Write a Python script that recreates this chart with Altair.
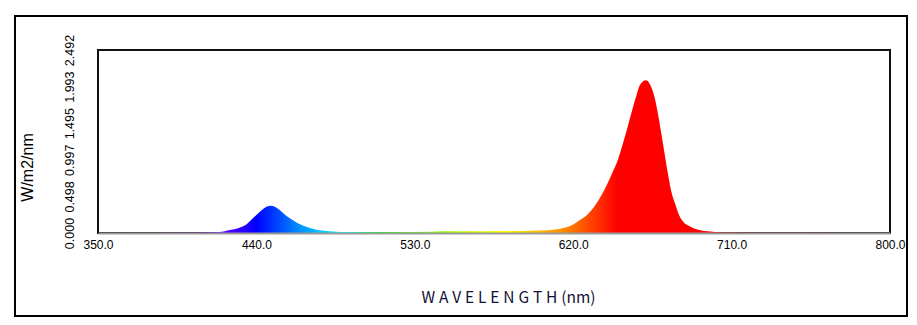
import altair as alt
import pandas as pd

# Spectrum (wavelength nm, W/m2/nm)
wavelengths = [350, 380, 400, 410, 419, 425, 431, 434.5, 438, 442, 446, 448.3, 451.5,
               455.3, 459, 463, 466.6, 472.3, 480, 487.5, 500, 520, 540, 545, 570, 590,
               601, 610, 615, 620, 624, 628, 631.4, 635, 639, 643, 645, 647, 649, 652,
               656, 658, 661.4, 664.6, 666.5, 668.4, 670.3, 672.2, 674.1, 676, 678,
               679.7, 682.6, 686.4, 691, 698, 703, 720, 800]
irradiance = [0.0, 0.002, 0.005, 0.008, 0.014, 0.04, 0.078, 0.12, 0.2, 0.29, 0.36, 0.372,
              0.345, 0.27, 0.2, 0.14, 0.10, 0.055, 0.027, 0.015, 0.012, 0.014, 0.018,
              0.025, 0.025, 0.027, 0.034, 0.048, 0.07, 0.116, 0.18, 0.25, 0.34, 0.47,
              0.65, 0.86, 0.97, 1.12, 1.28, 1.54, 1.88, 2.02, 2.08, 1.97, 1.82, 1.59,
              1.32, 1.04, 0.77, 0.54, 0.39, 0.27, 0.15, 0.09, 0.045, 0.02, 0.01, 0.003, 0.0]

x_ticks = [350, 440, 530, 620, 710, 800]
y_ticks = [0.0, 0.498, 0.997, 1.495, 1.993, 2.492]

# colour of light per wavelength (gradient stops)
stop_wl = [350, 380, 400, 420, 440, 465, 490, 510, 545, 580, 612, 645, 700, 780, 800]
stop_col = ["#500050", "#610061", "#8200b5", "#6a00ff", "#0000ff", "#0092ff", "#00ffff",
            "#00ff00", "#92ff00", "#ffff00", "#ff9400", "#ff0000", "#ff0000", "#610000",
            "#610000"]

df = pd.DataFrame({"wl": wavelengths, "val": irradiance})

W, H = 792, 183
lo, hi = 350, 800
stops = [alt.GradientStop(offset=(w - lo) / (hi - lo), color=c) for w, c in zip(stop_wl, stop_col)]

sp = "\u2005"
x_title = sp.join("WAVELENGTH") + sp + "(nm)"

area = alt.Chart(df).mark_area(
    interpolate="monotone",
    color=alt.Gradient(gradient="linear", stops=stops, x1=0, x2=1, y1=0, y2=0),
).encode(
    x=alt.X("wl:Q", scale=alt.Scale(domain=[lo, hi], nice=False, zero=False),
            axis=alt.Axis(values=x_ticks, format=".1f", title=x_title,
                          grid=False, ticks=False, domainColor="#999999", domainWidth=2,
                          labelFont="Liberation Sans", labelFontSize=12, labelColor="#000",
                          labelPadding=6, labelFlush=False, zindex=1,
                          titleFont="Noto Sans CJK SC", titleFontSize=15.5, titleFontWeight="normal",
                          titleColor="#111133", titleX=410, titleY=69, titleAlign="center",
                          titleBaseline="alphabetic")),
    y=alt.Y("val:Q", scale=alt.Scale(domain=[0, 2.492], nice=False),
            axis=alt.Axis(values=y_ticks, format=".3f", title="W/m2/nm", grid=False,
                          ticks=False, domain=False, labelAngle=270, labelAlign="center",
                          labelBaseline="bottom", labelPadding=22,
                          labelFont="Liberation Sans", labelFontSize=12.5, labelColor="#000",
                          labelFlush=False,
                          titleFont="Liberation Sans", titleFontSize=16, titleFontWeight="normal",
                          titleColor="#000", titleAngle=270, titleX=-66, titleY=117,
                          titleAlign="center", titleBaseline="alphabetic")),
)

border = alt.Chart(df).mark_rect(fill=None, stroke="#000", strokeWidth=1.5).encode(
    x=alt.value(-83), x2=alt.value(809), y=alt.value(-34), y2=alt.value(266)
)

chart = alt.layer(area, border).properties(
    width=W, height=H,
    autosize=alt.AutoSizeParams(type="none"),
    padding={"left": 98, "top": 50, "right": 27, "bottom": 92},
    background="white",
).configure_view(stroke="#111", strokeWidth=2)

chart.save("out.html", embed_options={"renderer": "svg", "actions": False})
